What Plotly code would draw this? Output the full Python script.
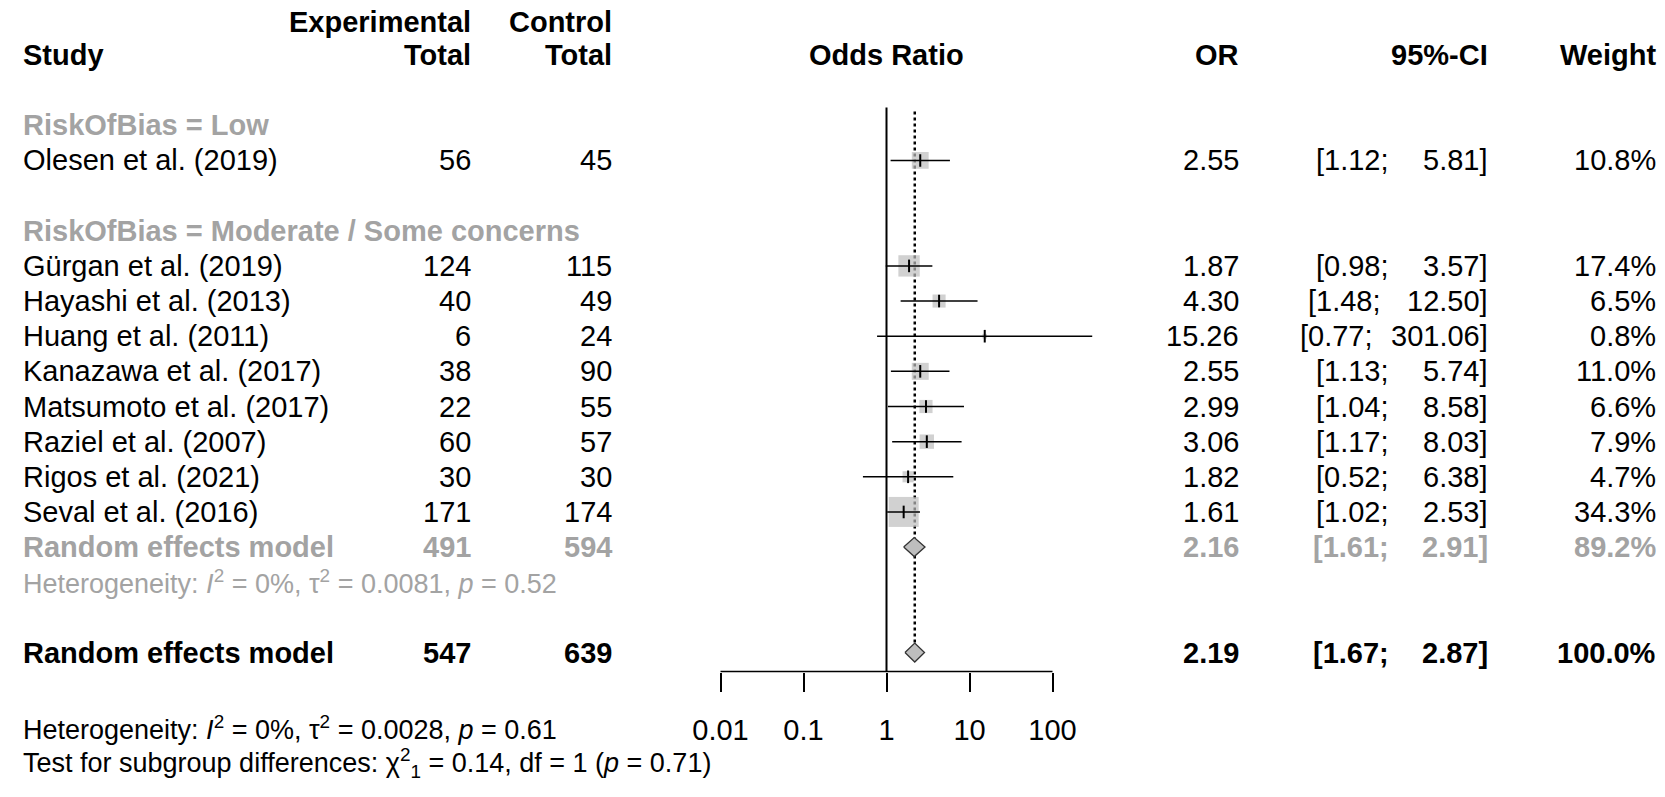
import plotly.graph_objects as go

# ---------------- data ----------------
studies = ["Olesen et al. (2019)", "Gürgan et al. (2019)", "Hayashi et al. (2013)",
           "Huang et al. (2011)", "Kanazawa et al. (2017)", "Matsumoto et al. (2017)",
           "Raziel et al. (2007)", "Rigos et al. (2021)", "Seval et al. (2016)"]
groups = ["Low", "Moderate", "Moderate", "Moderate", "Moderate", "Moderate",
          "Moderate", "Moderate", "Moderate"]
exp_total = [56, 124, 40, 6, 38, 22, 60, 30, 171]
ctrl_total = [45, 115, 49, 24, 90, 55, 57, 30, 174]
or_est = [2.55, 1.87, 4.30, 15.26, 2.55, 2.99, 3.06, 1.82, 1.61]
ci_lo = [1.12, 0.98, 1.48, 0.77, 1.13, 1.04, 1.17, 0.52, 1.02]
ci_hi = [5.81, 3.57, 12.50, 301.06, 5.74, 8.58, 8.03, 6.38, 2.53]
weight = [10.8, 17.4, 6.5, 0.8, 11.0, 6.6, 7.9, 4.7, 34.3]

group_labels = ["RiskOfBias = Low", "RiskOfBias = Moderate / Some concerns"]

sub_label = "Random effects model"
sub_exp, sub_ctrl = 491, 594
sub_or, sub_lo, sub_hi, sub_w = 2.16, 1.61, 2.91, 89.2
sub_het = "Heterogeneity: <i>I</i><sup>2</sup> = 0%, τ<sup>2</sup> = 0.0081, <i>p</i> = 0.52"

tot_label = "Random effects model"
tot_exp, tot_ctrl = 547, 639
tot_or, tot_lo, tot_hi, tot_w = 2.19, 1.67, 2.87, 100.0
tot_het = "Heterogeneity: <i>I</i><sup>2</sup> = 0%, τ<sup>2</sup> = 0.0028, <i>p</i> = 0.61"
sub_test = "Test for subgroup differences: χ<sup>2</sup><sub>1</sub> = 0.14, df = 1 (<i>p</i> = 0.71)"

tick_vals = [0.01, 0.1, 1, 10, 100]
tick_text = ["0.01", "0.1", "1", "10", "100"]

# ---------------- layout constants ----------------
W, H = 1665, 797
X1 = 878.5          # pixel of OR = 1
DEC = 83.0          # pixels per decade
XR = [-2.6, 2.8]
ROW0, ROWH = 47.0, 35.15
def ry(i):
    return ROW0 + ROWH * i

FONT = "Liberation Sans, Arial, sans-serif"
FS = 29
BLACK = "#000000"
GREY_TXT = "#A3A3A3"
GREY_BOX = "#BEBEBE"

study_rows = [3, 6, 7, 8, 9, 10, 11, 12, 13]
study_y = [ry(i) for i in study_rows]
sub_y = ry(14)
subhet_y = ry(15)
tot_y = ry(17)
axis_y = 663.5
bot_het_y = 719.5
bot_test_y = 754.5
DIA_H = 9.5
SQ_MAX = 30.0

X_STUDY, X_EXP, X_CTRL, X_OR_HDR = 13, 465, 606, X1
X_OR, X_CI, X_W = 1233, 1482, 1650
CI_GAP = 10

fig = go.Figure()

line_kw = dict(mode="lines", hoverinfo="skip", showlegend=False)

# reference line at OR = 1
fig.add_trace(go.Scatter(x=[1, 1], y=[99.5, axis_y], line=dict(color=BLACK, width=2), **line_kw))
# dotted line at pooled estimate
fig.add_trace(go.Scatter(x=[tot_or, tot_or], y=[103.5, tot_y - DIA_H],
                         line=dict(color=BLACK, width=2.5, dash="dot"), **line_kw))
# x-axis baseline
fig.add_trace(go.Scatter(x=[tick_vals[0], tick_vals[-1]], y=[axis_y, axis_y],
                         line=dict(color=BLACK, width=1.6), **line_kw))

# squares
max_w = max(weight)
sizes = [SQ_MAX * (w / max_w) ** 0.5 for w in weight]
fig.add_trace(go.Scatter(x=or_est, y=study_y, mode="markers", hoverinfo="skip", showlegend=False,
                         marker=dict(symbol="square", size=sizes, color=GREY_BOX, line=dict(width=0))))

# CI lines
cx, cy = [], []
for lo, hi, yy in zip(ci_lo, ci_hi, study_y):
    cx += [lo, hi, None]
    cy += [yy, yy, None]
fig.add_trace(go.Scatter(x=cx, y=cy, line=dict(color=BLACK, width=1.5), **line_kw))

# point estimate ticks
fig.add_trace(go.Scatter(x=or_est, y=study_y, mode="markers", hoverinfo="skip", showlegend=False,
                         marker=dict(symbol="line-ns", size=9, line=dict(color=BLACK, width=2))))

# diamonds
for est, lo, hi, yy in [(sub_or, sub_lo, sub_hi, sub_y), (tot_or, tot_lo, tot_hi, tot_y)]:
    fig.add_trace(go.Scatter(x=[lo, est, hi, est, lo], y=[yy, yy - DIA_H, yy, yy + DIA_H, yy],
                             mode="lines", fill="toself", fillcolor=GREY_BOX,
                             line=dict(color="#333333", width=1.3), hoverinfo="skip", showlegend=False))

# ---------------- text ----------------
ann = []
def txt(px, y, s, anchor="left", color=BLACK, bold=False, size=FS):
    ann.append(dict(x=px / W, xref="paper", y=y, yref="y", text=s, showarrow=False,
                    xanchor=anchor, yanchor="middle",
                    font=dict(family=FONT, size=size, color=color,
                              weight="bold" if bold else "normal")))

# approximate Arial advance widths (em) for the CI column layout
EM = {" ": 0.278, ".": 0.278, "]": 0.278, "[": 0.278, ";": 0.278}
def em_width(s):
    return sum(EM.get(c, 0.556) for c in s)

def ci_text(lo, hi, y, color=BLACK, bold=False):
    up = f"{hi:.2f}"
    tail = " " * (1 + 6 - len(up)) + up + "]"
    txt(X_CI, y, up + "]", "right", color, bold)
    txt(X_CI - FS * em_width(tail) - CI_GAP, y, f"[{lo:.2f};", "right", color, bold)

# headers
txt(X_EXP, ry(-1) + 2, "Experimental", "right", bold=True)
txt(X_CTRL, ry(-1) + 2, "Control", "right", bold=True)
txt(X_STUDY, ry(0), "Study", "left", bold=True)
txt(X_EXP, ry(0), "Total", "right", bold=True)
txt(X_CTRL, ry(0), "Total", "right", bold=True)
txt(X_OR_HDR, ry(0), "Odds Ratio", "center", bold=True)
txt(X_OR, ry(0), "OR", "right", bold=True)
txt(X_CI, ry(0), "95%-CI", "right", bold=True)
txt(X_W, ry(0), "Weight", "right", bold=True)

# group labels
txt(X_STUDY, ry(2), group_labels[0], "left", GREY_TXT, bold=True)
txt(X_STUDY, ry(5), group_labels[1], "left", GREY_TXT, bold=True)

# studies
for i, yy in enumerate(study_y):
    txt(X_STUDY, yy, studies[i], "left")
    txt(X_EXP, yy, str(exp_total[i]), "right")
    txt(X_CTRL, yy, str(ctrl_total[i]), "right")
    txt(X_OR, yy, f"{or_est[i]:.2f}", "right")
    ci_text(ci_lo[i], ci_hi[i], yy)
    txt(X_W, yy, f"{weight[i]:.1f}%", "right")

# subgroup pooled
txt(X_STUDY, sub_y, sub_label, "left", GREY_TXT, bold=True)
txt(X_EXP, sub_y, str(sub_exp), "right", GREY_TXT, bold=True)
txt(X_CTRL, sub_y, str(sub_ctrl), "right", GREY_TXT, bold=True)
txt(X_OR, sub_y, f"{sub_or:.2f}", "right", GREY_TXT, bold=True)
ci_text(sub_lo, sub_hi, sub_y, GREY_TXT, bold=True)
txt(X_W, sub_y, f"{sub_w:.1f}%", "right", GREY_TXT, bold=True)
txt(X_STUDY, subhet_y, sub_het, "left", GREY_TXT, size=FS - 2)

# overall
txt(X_STUDY, tot_y, tot_label, "left", bold=True)
txt(X_EXP, tot_y, str(tot_exp), "right", bold=True)
txt(X_CTRL, tot_y, str(tot_ctrl), "right", bold=True)
txt(X_OR, tot_y, f"{tot_or:.2f}", "right", bold=True)
ci_text(tot_lo, tot_hi, tot_y, bold=True)
txt(X_W, tot_y, f"{tot_w:.1f}%", "right", bold=True)
txt(X_STUDY, bot_het_y, tot_het, "left", size=FS - 2)
txt(X_STUDY, bot_test_y, sub_test, "left", size=FS - 2)

fig.update_layout(
    width=W, height=H, margin=dict(l=0, r=0, t=0, b=0),
    paper_bgcolor="white", plot_bgcolor="white",
    annotations=ann,
    xaxis=dict(type="log", range=XR, domain=[(X1 + DEC * XR[0]) / W, (X1 + DEC * XR[1]) / W],
               tickvals=tick_vals, ticktext=tick_text, ticks="outside", ticklen=19,
               tickwidth=1.6, tickcolor=BLACK, showline=False, showgrid=False, zeroline=False,
               anchor="free", position=1 - axis_y / H, ticklabelstandoff=14,
               tickfont=dict(family=FONT, size=FS, color=BLACK)),
    yaxis=dict(range=[H, 0], domain=[0, 1], visible=False, showgrid=False, zeroline=False),
)

fig.write_html("out.html")
